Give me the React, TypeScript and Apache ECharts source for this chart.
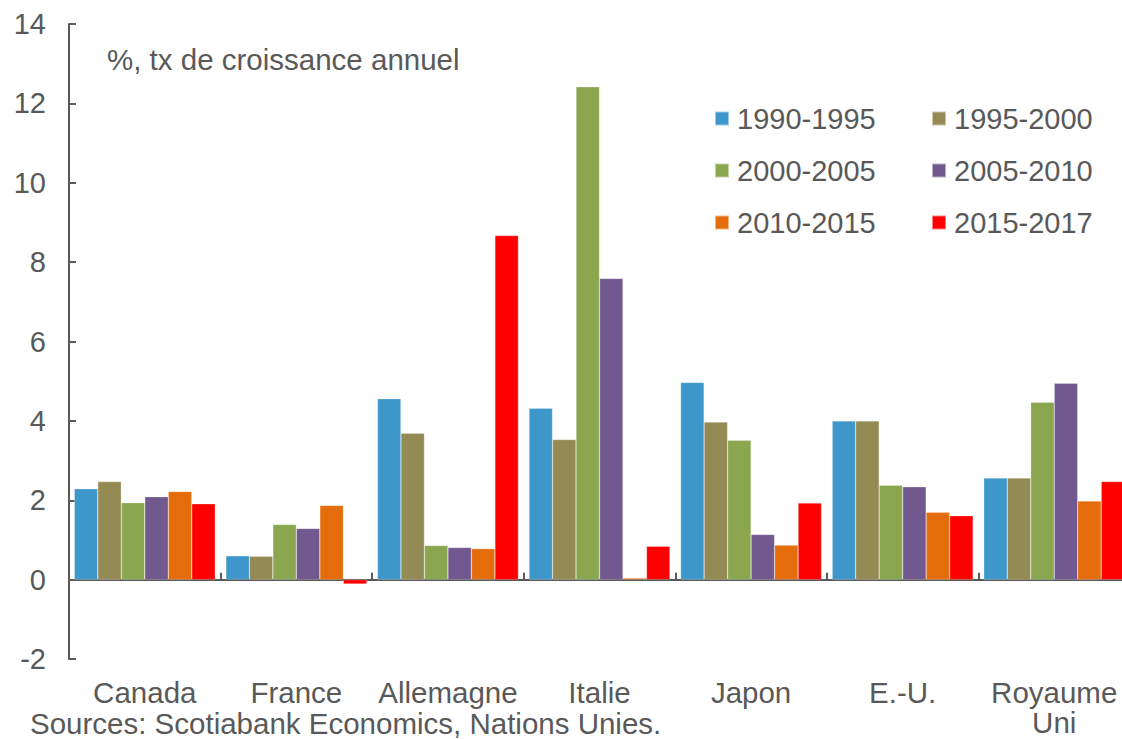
import React, { useEffect, useRef } from "react";
import * as echarts from "echarts";

const categories = ["Canada", "France", "Allemagne", "Italie", "Japon", "E.-U.", "Royaume Uni"];
const seriesNames = ["1990-1995", "1995-2000", "2000-2005", "2005-2010", "2010-2015", "2015-2017"];
const s1990 = [2.29, 0.6, 4.56, 4.32, 4.97, 4.0, 2.56];
const s1995 = [2.47, 0.59, 3.69, 3.53, 3.97, 4.0, 2.56];
const s2000 = [1.94, 1.39, 0.86, 12.42, 3.51, 2.38, 4.47];
const s2005 = [2.09, 1.29, 0.81, 7.59, 1.14, 2.34, 4.95];
const s2010 = [2.22, 1.87, 0.78, 0.04, 0.87, 1.7, 1.98];
const s2015 = [1.91, -0.11, 8.67, 0.84, 1.93, 1.61, 2.47];
const seriesValues = [s1990, s1995, s2000, s2005, s2010, s2015];
const colors = ["#3D97CA", "#948A54", "#8AA64F", "#71588F", "#E46C0A", "#FF0000"];
const yMin = -2;
const yMax = 14;
const yInterval = 2;
const unitNote = "%, tx de croissance annuel";
const sourceNote = "Sources: Scotiabank Economics, Nations Unies.";

const FONT = "'Liberation Sans', Arial, sans-serif";
const GREY = "#595959";

export default function App() {
  const ref = useRef<HTMLDivElement>(null);
  useEffect(() => {
    document.body.style.margin = "0";
    const chart = echarts.init(ref.current!, null, { renderer: "svg" });
    const legendText = { fontSize: 29, color: GREY, fontFamily: FONT, lineHeight: 29, padding: [0, 0, 0, 3] };
    chart.setOption({
      animation: false,
      backgroundColor: "#ffffff",
      textStyle: { fontFamily: FONT },
      grid: { left: 69, width: 1061, top: 24, bottom: 80, containLabel: false, outerBoundsMode: "none" },
      legend: [
        {
          orient: "vertical",
          left: 714,
          top: 104,
          padding: 0,
          itemWidth: 14,
          itemHeight: 14,
          itemGap: 23,
          icon: "rect",
          textStyle: legendText,
          data: [seriesNames[0], seriesNames[2], seriesNames[4]],
        },
        {
          orient: "vertical",
          left: 931,
          top: 104,
          padding: 0,
          itemWidth: 14,
          itemHeight: 14,
          itemGap: 23,
          icon: "rect",
          textStyle: legendText,
          data: [seriesNames[1], seriesNames[3], seriesNames[5]],
        },
      ],
      xAxis: [
        {
          type: "category",
          data: categories,
          position: "bottom",
          axisLine: { onZero: true, lineStyle: { color: GREY, width: 2 } },
          axisTick: { show: true, inside: true, length: 7, lineStyle: { color: GREY, width: 2 } },
          axisLabel: { show: false },
          splitLine: { show: false },
        },
        {
          type: "category",
          data: categories,
          position: "bottom",
          axisLine: { show: false, onZero: false },
          axisTick: { show: false },
          axisLabel: {
            show: true,
            margin: 18,
            fontSize: 29.5,
            lineHeight: 30,
            color: GREY,
            fontFamily: FONT,
            interval: 0,
            formatter: (v: string) => v.replace(" ", "\n"),
          },
          splitLine: { show: false },
        },
      ],
      yAxis: {
        type: "value",
        min: yMin,
        max: yMax,
        interval: yInterval,
        axisLine: { show: true, lineStyle: { color: GREY, width: 2 } },
        axisTick: { show: true, inside: true, length: 7, lineStyle: { color: GREY, width: 2 } },
        axisLabel: { fontSize: 29, color: GREY, fontFamily: FONT, margin: 23 },
        splitLine: { show: false },
      },
      graphic: [
        {
          type: "text",
          x: 107,
          y: 59,
          style: { text: unitNote, fontSize: 29.5, fill: GREY, fontFamily: FONT, verticalAlign: "middle" },
        },
        {
          type: "text",
          x: 30,
          y: 723,
          style: { text: sourceNote, fontSize: 29.5, lineHeight: 28, fill: GREY, fontFamily: FONT, verticalAlign: "middle" },
        },
      ],
      series: seriesValues.map((vals, i) => ({
        name: seriesNames[i],
        type: "bar",
        xAxisIndex: 0,
        data: vals,
        barGap: "0%",
        barCategoryGap: "7%",
        itemStyle: { color: colors[i], borderColor: "rgba(255,255,255,0.5)", borderWidth: 0.5 },
      })),
    });
    return () => chart.dispose();
  }, []);
  return <div ref={ref} style={{ width: 1122, height: 739 }} />;
}
